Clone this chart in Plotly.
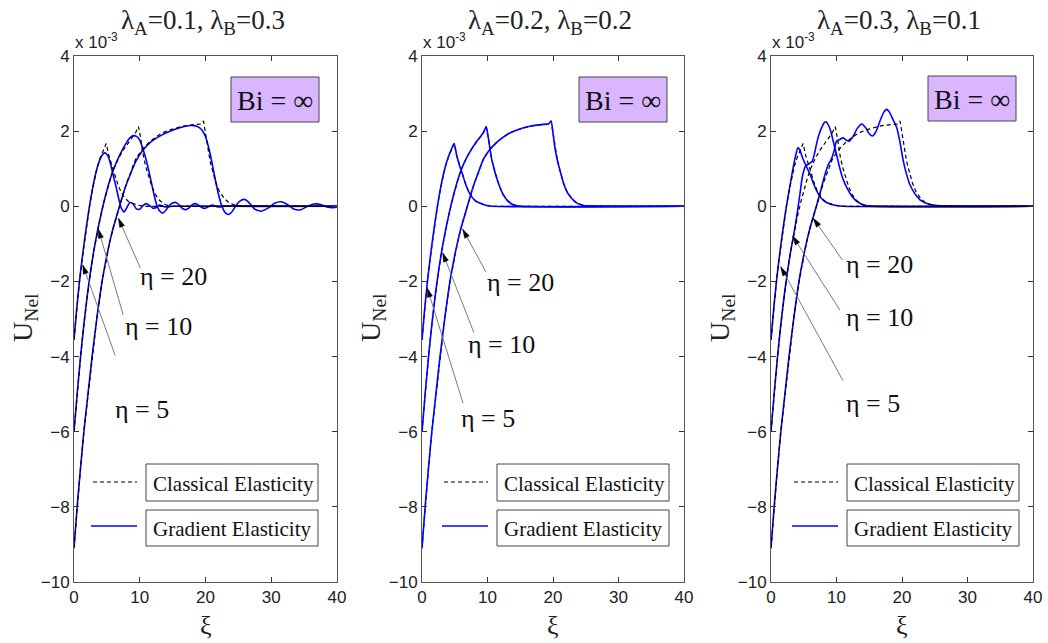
import plotly.graph_objects as go

W, H = 1048, 643

# ---------------- data: U_Nel in units of 1e-3, versus xi ----------------
# Classical elasticity (same solution in every panel)
cl5_xi = [0, 0.4, 0.8, 1.2, 1.6, 2.0, 2.4, 2.8, 3.2, 3.6, 4.0, 4.4, 4.9, 5.3, 5.7, 6.1, 6.6, 7.1, 7.6, 8.2, 8.9, 9.7, 10.8, 40]
cl5_u = [-3.55, -2.75, -2.05, -1.45, -0.9, -0.4, 0.05, 0.45, 0.8, 1.08, 1.3, 1.48, 1.67, 1.35, 1.1, 0.9, 0.62, 0.4, 0.25, 0.14, 0.08, 0.03, 0, 0]

cl10_xi = [0, 0.5, 1, 1.5, 2, 2.5, 3, 3.5, 4, 4.5, 5, 5.5, 6, 6.8, 7.5, 8.35, 9, 9.4, 9.8, 10.1, 10.6, 11, 11.4, 11.9, 12.4, 13, 13.9, 15, 40]
cl10_u = [-6.0, -4.95, -4.0, -3.15, -2.4, -1.75, -1.2, -0.72, -0.3, 0.08, 0.42, 0.72, 0.98, 1.29, 1.5, 1.73, 1.87, 1.97, 2.12, 1.85, 1.29, 1.0, 0.75, 0.5, 0.31, 0.16, 0.04, 0, 0]

cl20_xi = [0, 0.5, 1, 1.5, 2, 2.75, 3.5, 4.27, 5, 5.5, 6, 6.5, 7, 7.5, 8, 8.5, 9.36, 10.3, 11.4, 12.4, 13.4, 14.5, 15.5, 16.5, 17.5, 18.5, 19.3, 19.7, 20.0, 20.3, 20.7, 21.1, 21.6, 22.1, 22.8, 23.6, 24.5, 25.5, 40]
cl20_u = [-9.1, -7.95, -6.95, -6.0, -5.2, -4.0, -2.95, -2.0, -1.3, -0.9, -0.55, -0.25, 0.05, 0.35, 0.62, 0.85, 1.25, 1.5, 1.7, 1.84, 1.95, 2.03, 2.09, 2.13, 2.16, 2.18, 2.19, 2.27, 1.95, 1.55, 1.2, 0.93, 0.62, 0.4, 0.22, 0.09, 0.03, 0.01, 0]

# Gradient elasticity, panel 1 (lambda_A=0.1, lambda_B=0.3)
g1_5_xi = [0, 0.4, 0.8, 1.2, 1.6, 2.0, 2.4, 2.8, 3.2, 3.6, 4.0, 4.4, 4.8, 5.2, 5.6, 6.0, 6.4, 6.8, 7.2, 7.6, 8.0, 8.5, 9.0, 9.5, 10.0, 10.5, 11.0, 11.5, 12.0, 12.5, 13.0, 14, 15, 40]
g1_5_u = [-3.55, -2.75, -2.05, -1.45, -0.9, -0.4, 0.05, 0.45, 0.8, 1.07, 1.27, 1.39, 1.42, 1.32, 1.1, 0.8, 0.52, 0.2, -0.05, -0.15, -0.05, 0.1, 0.06, -0.07, -0.08, 0.02, 0.07, 0.02, -0.05, -0.03, 0.03, -0.02, 0, 0]

g1_10_xi = [0, 0.5, 1, 1.5, 2, 2.5, 3, 3.5, 4, 4.5, 5, 5.5, 6, 7, 8, 8.5, 9, 9.5, 10, 10.5, 11, 11.5, 12, 12.5, 13, 13.5, 14, 14.5, 15, 15.5, 16, 16.5, 17, 17.5, 18, 18.5, 19, 19.5, 20, 21, 22, 23, 24, 40]
g1_10_u = [-6.0, -4.95, -4.0, -3.15, -2.4, -1.75, -1.2, -0.72, -0.3, 0.08, 0.42, 0.72, 0.98, 1.38, 1.7, 1.82, 1.88, 1.86, 1.76, 1.52, 1.22, 0.85, 0.45, 0.08, -0.12, -0.18, -0.1, 0.02, 0.09, 0.1, 0.03, -0.06, -0.09, -0.04, 0.04, 0.07, 0.02, -0.04, -0.05, 0.03, -0.02, 0.01, 0, 0]

g1_20_xi = [0, 0.5, 1, 1.5, 2, 2.75, 3.5, 4.27, 5, 5.5, 6, 6.5, 7, 7.5, 8, 8.5, 9.36, 10.3, 11.4, 12.4, 13.4, 14.5, 15.5, 16.5, 17.7, 18.5, 19.0, 19.5, 20, 20.5, 21, 21.5, 22, 22.5, 23, 23.5, 24, 24.5, 25, 25.5, 26, 26.5, 27, 27.5, 28.5, 29.5, 30.5, 31.5, 32.5, 33.5, 34.5, 35.5, 36.5, 37.5, 38.5, 39.5, 40]
g1_20_u = [-9.1, -7.95, -6.95, -6.0, -5.2, -4.0, -2.95, -2.0, -1.3, -0.9, -0.55, -0.25, 0.05, 0.35, 0.6, 0.82, 1.18, 1.45, 1.67, 1.8, 1.9, 1.99, 2.06, 2.11, 2.15, 2.14, 2.1, 2.02, 1.85, 1.55, 1.15, 0.7, 0.3, 0.0, -0.17, -0.22, -0.15, -0.02, 0.1, 0.17, 0.18, 0.12, 0.02, -0.08, -0.13, -0.05, 0.08, 0.12, 0.04, -0.08, -0.09, 0.0, 0.06, 0.05, -0.02, -0.04, -0.02]

# Gradient elasticity, panel 2 (lambda_A = lambda_B): coincides with classical
g2_5_xi, g2_5_u = cl5_xi, cl5_u
g2_10_xi, g2_10_u = cl10_xi, cl10_u
g2_20_xi, g2_20_u = cl20_xi, cl20_u

# Gradient elasticity, panel 3 (lambda_A=0.3, lambda_B=0.1)
g3_5_xi = [0, 0.4, 0.8, 1.2, 1.6, 2.0, 2.4, 2.8, 3.2, 3.6, 3.9, 4.1, 4.4, 4.8, 5.3, 5.7, 6.0, 6.5, 7.0, 7.5, 8.0, 8.5, 9.2, 10, 11, 40]
g3_5_u = [-3.55, -2.75, -2.05, -1.45, -0.9, -0.4, 0.05, 0.45, 0.85, 1.22, 1.45, 1.56, 1.5, 1.3, 1.1, 0.95, 0.84, 0.6, 0.4, 0.25, 0.16, 0.1, 0.05, 0.02, 0, 0]

g3_10_xi = [0, 0.5, 1, 1.5, 2, 2.5, 3, 3.5, 3.9, 4.4, 4.8, 5.3, 5.8, 6.3, 6.7, 7.0, 7.4, 7.8, 8.1, 8.4, 8.8, 9.2, 9.5, 10, 10.5, 11, 11.6, 12.3, 13.1, 14, 15, 40]
g3_10_u = [-6.0, -4.95, -4.0, -3.15, -2.4, -1.75, -1.2, -0.72, -0.3, 0.3, 0.8, 1.08, 1.13, 1.2, 1.45, 1.7, 1.95, 2.12, 2.22, 2.25, 2.15, 1.95, 1.73, 1.38, 1.02, 0.72, 0.49, 0.28, 0.13, 0.05, 0.01, 0]

g3_20_xi = [0, 0.5, 1, 1.5, 2, 2.75, 3.5, 4.27, 5, 5.5, 6, 6.5, 7, 7.4, 7.74, 8.2, 8.75, 9.2, 9.6, 10.0, 10.5, 11.04, 11.5, 11.9, 12.5, 13.2, 13.85, 14.5, 15.0, 15.5, 16.0, 16.6, 17.2, 17.66, 18.1, 18.6, 19.2, 19.7, 20.2, 20.7, 21.2, 21.9, 22.7, 23.7, 24.8, 26, 40]
g3_20_u = [-9.1, -7.95, -6.95, -6.0, -5.2, -4.0, -2.95, -2.0, -1.3, -0.9, -0.55, -0.25, 0.05, 0.3, 0.52, 0.82, 1.11, 1.25, 1.45, 1.73, 1.78, 1.82, 1.76, 1.73, 1.85, 2.08, 2.19, 2.08, 1.93, 1.87, 1.98, 2.25, 2.5, 2.58, 2.5, 2.32, 2.09, 1.7, 1.2, 0.85, 0.58, 0.35, 0.18, 0.08, 0.03, 0.01, 0]

panel_titles = ["λ<sub>A</sub>=0.1, λ<sub>B</sub>=0.3",
                "λ<sub>A</sub>=0.2, λ<sub>B</sub>=0.2",
                "λ<sub>A</sub>=0.3, λ<sub>B</sub>=0.1"]
eta_labels = ["η = 5", "η = 10", "η = 20"]
legend_labels = ["Classical Elasticity", "Gradient Elasticity"]
bi_label = "Bi = ∞"
x_ticks = [0, 10, 20, 30, 40]
y_ticks = [-10, -8, -6, -4, -2, 0, 2, 4]

classical = [(cl5_xi, cl5_u), (cl10_xi, cl10_u), (cl20_xi, cl20_u)]
gradient = [
    [(g1_5_xi, g1_5_u), (g1_10_xi, g1_10_u), (g1_20_xi, g1_20_u)],
    [(g2_5_xi, g2_5_u), (g2_10_xi, g2_10_u), (g2_20_xi, g2_20_u)],
    [(g3_5_xi, g3_5_u), (g3_10_xi, g3_10_u), (g3_20_xi, g3_20_u)],
]

# ---------------- layout geometry (pixels) ----------------
AX_L = [74, 422, 771]
AX_R = [337, 684, 1033]
AX_T, AX_B = 56, 582
PX_PER_X = (AX_R[0] - AX_L[0]) / 40.0
PX_PER_Y = (AX_B - AX_T) / 14.0

# annotation geometry in data coordinates: (arrow tip, arrow tail, label centre)
arrow_geom = [
    [((1.33, -1.56), (6.26, -3.97), (10.3, -5.42)),
     ((3.71, -0.61), (7.48, -2.89), (12.8, -3.21)),
     ((6.76, -0.32), (10.08, -1.64), (15.2, -1.88))],
    [((0.81, -2.18), (6.26, -5.24), (10.0, -5.64)),
     ((3.16, -1.24), (7.94, -3.37), (12.1, -3.69)),
     ((6.21, -0.61), (9.77, -1.75), (15.1, -2.04))],
    [((1.48, -1.61), (10.99, -4.64), (15.5, -5.24)),
     ((3.31, -0.79), (10.5, -2.76), (16.6, -2.95)),
     ((6.46, -0.32), (10.9, -1.43), (16.6, -1.56))],
]


def px(xp):
    return xp / W


def py(yp):
    return 1 - yp / H


fig = go.Figure()
annotations = []
shapes = []

BLUE = "#0000FF"
SERIF = "Liberation Serif, Times New Roman, serif"
SANS = "Liberation Sans, Arial, sans-serif"

for k in range(3):
    xa = "x" if k == 0 else f"x{k+1}"
    ya = "y" if k == 0 else f"y{k+1}"
    cl_traces = []
    for (xs, us) in classical:
        cl_traces.append(go.Scatter(x=xs, y=us, xaxis=xa, yaxis=ya, mode="lines",
                                    line=dict(color="black", width=1.2, dash="4px,3px"),
                                    showlegend=False, hoverinfo="skip"))
    gr_traces = []
    for (xs, us) in gradient[k]:
        gr_traces.append(go.Scatter(x=xs, y=us, xaxis=xa, yaxis=ya, mode="lines",
                                    line=dict(color=BLUE, width=1.6, shape="spline", smoothing=0.6),
                                    showlegend=False, hoverinfo="skip"))
    if k == 1:
        for t in cl_traces + gr_traces:
            fig.add_trace(t)
    else:
        for t in gr_traces + cl_traces:
            fig.add_trace(t)

    axis_common = dict(ticks="inside", ticklen=5, tickwidth=1, tickcolor="#333",
                       mirror="allticks", showline=True, linecolor="#555", linewidth=1,
                       showgrid=False, zeroline=False, automargin=False,
                       tickfont=dict(family=SANS, size=17, color="#222"))
    fig.update_layout(**{
        ("xaxis" if k == 0 else f"xaxis{k+1}"): dict(
            domain=[px(AX_L[k]), px(AX_R[k])], range=[0, 40], tickvals=x_ticks,
            anchor=ya, **axis_common),
        ("yaxis" if k == 0 else f"yaxis{k+1}"): dict(
            domain=[py(AX_B), py(AX_T)], range=[-10, 4], tickvals=y_ticks,
            anchor=xa, **axis_common),
    })

    cx = (AX_L[k] + AX_R[k]) / 2
    # panel title
    annotations.append(dict(text=panel_titles[k], x=px(cx - 3), y=py(22), xref="paper", yref="paper",
                            xanchor="center", yanchor="middle", showarrow=False,
                            font=dict(family=SERIF, size=27, color="#222")))
    # exponent label
    annotations.append(dict(text="x 10<sup>-3</sup>", x=px(AX_L[k] - 1), y=py(54), xref="paper", yref="paper",
                            xanchor="left", yanchor="bottom", showarrow=False,
                            font=dict(family=SANS, size=17, color="#222")))
    # axis titles
    annotations.append(dict(text="ξ", x=px(cx), y=py(625), xref="paper", yref="paper",
                            xanchor="center", yanchor="middle", showarrow=False,
                            font=dict(family=SERIF, size=26, color="#222")))
    annotations.append(dict(text="U<sub>Nel</sub>", x=px(AX_L[k] - 50), y=py(318), xref="paper", yref="paper",
                            xanchor="center", yanchor="middle", showarrow=False, textangle=-90,
                            font=dict(family=SERIF, size=28, color="#222")))

    # Bi box
    bx0 = AX_L[k] + 157
    bx1 = bx0 + 88
    by0, by1 = 77 - (1 if k == 2 else 0), 122 - (1 if k == 2 else 0)
    shapes.append(dict(type="rect", xref="paper", yref="paper", x0=px(bx0), x1=px(bx1),
                       y0=py(by1), y1=py(by0), fillcolor="#D9B6FF", line=dict(color="#444", width=1),
                       layer="above"))
    annotations.append(dict(text=bi_label, x=px((bx0 + bx1) / 2), y=py((by0 + by1) / 2 + 1),
                            xref="paper", yref="paper", xanchor="center", yanchor="middle",
                            showarrow=False, font=dict(family=SERIF, size=28, color="#111")))

    # legend boxes
    lx0 = [146, 497, 847][k]
    lx1 = lx0 + 172
    for j, (ly0, ly1) in enumerate([(464, 501), (510, 546)]):
        shapes.append(dict(type="rect", xref="paper", yref="paper", x0=px(lx0), x1=px(lx1),
                           y0=py(ly1), y1=py(ly0), fillcolor="white", line=dict(color="#444", width=1),
                           layer="above"))
        annotations.append(dict(text=legend_labels[j], x=px(lx0 + 5), y=py((ly0 + ly1) / 2 + 1),
                                xref="paper", yref="paper", xanchor="left", yanchor="middle",
                                showarrow=False, font=dict(family=SERIF, size=21, color="#111")))
    shapes.append(dict(type="line", xref="paper", yref="paper", x0=px(lx0 - 53), x1=px(lx0 - 9),
                       y0=py(482), y1=py(482), line=dict(color="black", width=1.2, dash="4px,3px"),
                       layer="above"))
    shapes.append(dict(type="line", xref="paper", yref="paper", x0=px(lx0 - 55), x1=px(lx0 - 9),
                       y0=py(526), y1=py(526), line=dict(color=BLUE, width=1.6), layer="above"))

    # eta arrows (grey shaft + black head) and labels
    for j, (tip, tail, tc) in enumerate(arrow_geom[k]):
        shapes.append(dict(type="line", xref=xa, yref=ya, x0=tail[0], y0=tail[1], x1=tip[0], y1=tip[1],
                           line=dict(color="#7a7a7a", width=1), layer="above"))
        dxp = (tail[0] - tip[0]) * PX_PER_X
        dyp = -(tail[1] - tip[1]) * PX_PER_Y
        nrm = (dxp ** 2 + dyp ** 2) ** 0.5
        ux, uy = dxp / nrm, dyp / nrm
        nx, ny = -uy, ux
        L, Wd = 9.0, 2.6
        pts = [(0.0, 0.0), (ux * L + nx * Wd, uy * L + ny * Wd), (ux * L - nx * Wd, uy * L - ny * Wd)]
        coords = [(tip[0] + ppx / PX_PER_X, tip[1] - ppy / PX_PER_Y) for ppx, ppy in pts]
        path = "M {} {} L {} {} L {} {} Z".format(*[v for c in coords for v in c])
        shapes.append(dict(type="path", xref=xa, yref=ya, path=path, fillcolor="black",
                           line=dict(color="black", width=0.5), layer="above"))
        annotations.append(dict(text=eta_labels[j], x=tc[0], y=tc[1], xref=xa, yref=ya,
                                xanchor="center", yanchor="middle", showarrow=False,
                                font=dict(family=SERIF, size=26, color="#111")))

fig.update_layout(width=W, height=H, autosize=False,
                  margin=dict(l=0, r=0, t=0, b=0, pad=0),
                  paper_bgcolor="white", plot_bgcolor="white",
                  showlegend=False, annotations=annotations, shapes=shapes)

fig.write_html("out.html")
